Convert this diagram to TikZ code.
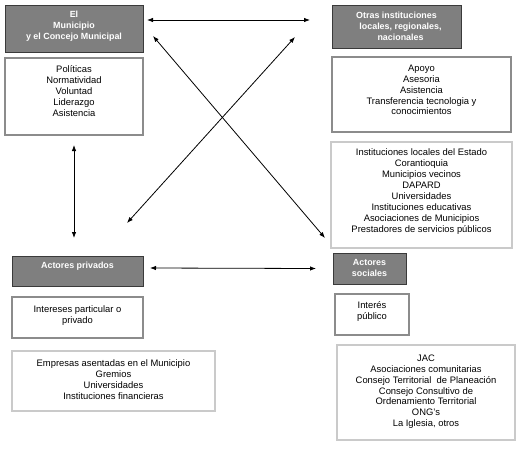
\documentclass[tikz,border=0pt]{standalone}
\usepackage{fontspec}
\setmainfont{Liberation Sans}
\usetikzlibrary{arrows.meta}
\definecolor{hdrfill}{HTML}{7F7F7F}
\definecolor{hdrline}{HTML}{3A3A3A}
\definecolor{midline}{HTML}{8C8C8C}
\definecolor{lightline}{HTML}{CACACA}
\begin{document}
\begin{tikzpicture}[x=1pt,y=-1pt,
 hdr/.style={draw=hdrline, line width=0.8pt, fill=hdrfill, inner sep=0pt, outer sep=0pt, anchor=north west},
 midbox/.style={draw=midline, line width=1.8pt, fill=white, inner sep=0pt, outer sep=0pt, anchor=north west},
 lightbox/.style={draw=lightline, line width=1.8pt, fill=white, inner sep=0pt, outer sep=0pt, anchor=north west},
 txt/.style={font=\fontsize{9.4}{10.9}\selectfont, align=center, inner sep=0pt, anchor=north},
 htxt/.style={font=\bfseries\fontsize{8.9}{10.9}\selectfont, align=center, inner sep=0pt, anchor=north, text=white},
 conn/.style={line width=0.8pt, {Latex[length=6pt,width=4.5pt]}-{Latex[length=6pt,width=4.5pt]}}]
\fill[white] (0,0) rectangle (526,452);
\useasboundingbox (0,0) rectangle (526,452);
% left column
\node[hdr, minimum width=138pt, minimum height=47pt] (mun) at (5,5) {};
\node[htxt] (munt) at ([shift={(0,5)}]mun.north) {\strut El\\Municipio\\y el Concejo Municipal};
\node[midbox, minimum width=138pt, minimum height=77pt] (pol) at (5,58) {};
\node[txt] (polt) at ([shift={(0,7)}]pol.north) {\strut Políticas\\Normatividad\\Voluntad\\Liderazgo\\Asistencia};
\node[hdr, minimum width=131pt, minimum height=30pt] (priv) at (12,256) {};
\node[htxt] (privt) at ([shift={(0,5)}]priv.north) {\strut Actores privados};
\node[midbox, minimum width=131pt, minimum height=41pt] (par) at (12,297) {};
\node[txt] (part) at ([shift={(0,7.5)}]par.north) {\strut Intereses particular o\\privado};
\node[lightbox, minimum width=203pt, minimum height=60pt] (emp) at (12,351) {};
\node[txt] (empt) at ([shift={(0,7.5)}]emp.north) {\strut Empresas asentadas en el Municipio\\Gremios\\Universidades\\Instituciones financieras};
% right column
\node[hdr, minimum width=129pt, minimum height=43pt] (otr) at (332,5) {};
\node[htxt] (otrt) at ([shift={(4,5.5)}]otr.north) {\hspace*{-8pt}\strut Otras instituciones\\locales, regionales,\\nacionales};
\node[midbox, minimum width=179pt, minimum height=75pt] (apo) at (332,57) {};
\node[txt] (apot) at ([shift={(0,6.5)}]apo.north) {\strut Apoyo\\Asesoria\\Asistencia\\Transferencia tecnologia y\\conocimientos};
\node[lightbox, minimum width=181pt, minimum height=106pt] (inst) at (331,142) {};
\node[txt] (instt) at ([shift={(0,6)}]inst.north) {\strut Instituciones locales del Estado\\Corantioquia\\Municipios vecinos\\DAPARD\\Universidades\\Instituciones educativas\\Asociaciones de Municipios\\Prestadores de servicios públicos};
\node[hdr, minimum width=73pt, minimum height=31pt] (soc) at (333,253) {};
\node[htxt] (soct) at ([shift={(0,5)}]soc.north) {\strut Actores\\sociales};
\node[midbox, minimum width=74pt, minimum height=41pt] (pub) at (335,294) {};
\node[txt] (pubt) at ([shift={(0,7)}]pub.north) {\strut Interés\\público};
\node[lightbox, minimum width=178pt, minimum height=95pt] (jac) at (337,345) {};
\node[txt] (jact) at ([shift={(0,8.5)}]jac.north) {\strut JAC\\Asociaciones comunitarias\\Consejo Territorial\ \ de Planeación\\Consejo Consultivo de\\Ordenamiento Territorial\\ONG's\\La Iglesia, otros};
% connectors
\draw[conn] ([shift={(4,15)}]mun.north east) -- ([shift={(-22,15)}]otr.north west);
\draw[conn] ([shift={(10,31)}]mun.north east) -- ([shift={(-6,-10)}]inst.south west);
\draw[conn] ([shift={(-37,32)}]otr.north west) -- ([shift={(-16,-33)}]priv.north east);
\draw[conn] ([shift={(0,10)}]pol.south) -- ([shift={(62,-18)}]priv.north west);
\draw[conn] ([shift={(7,-3)}]priv.east) -- ([shift={(-17,0)}]soc.west);
\end{tikzpicture}
\end{document}
